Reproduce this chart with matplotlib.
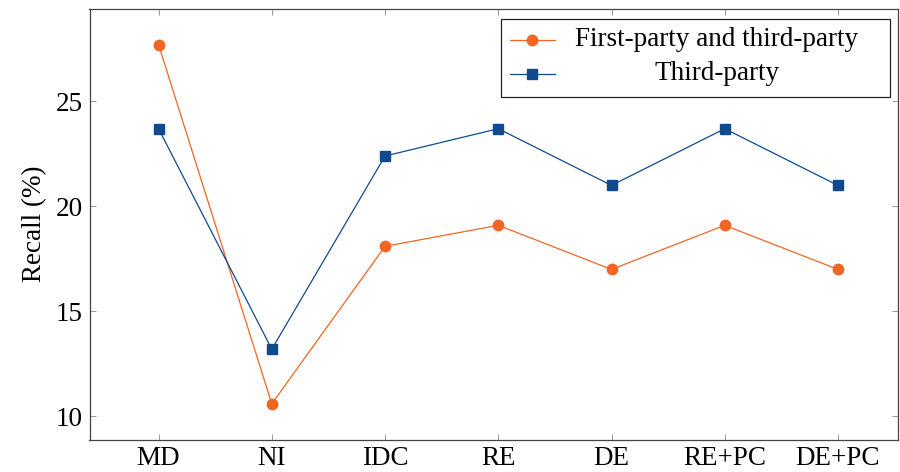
import numpy as np
import matplotlib.pyplot as plt
from matplotlib.lines import Line2D
from matplotlib.patches import Rectangle

plt.rcParams['font.family'] = ['Liberation Serif', 'DejaVu Serif']

methods = ['MD', 'NI', 'IDC', 'RE', 'DE', 'RE+PC', 'DE+PC']
first_and_third = [27.7, 10.6, 18.1, 19.1, 17.0, 19.1, 17.0]
third_only = [23.7, 13.2, 22.4, 23.7, 21.0, 23.7, 21.0]

orange = '#F26522'
blue = '#104A8E'
fs = 19.5

fig = plt.figure(figsize=(9, 4.72), dpi=100)
ax = fig.add_axes([89.5 / 900, 1 - 439.5 / 472, (898 - 89.5) / 900, (439.5 - 9) / 472])

x = np.arange(len(methods))
ax.plot(x, first_and_third, color=orange, lw=0.9, marker='o', ms=7.5, mec=orange, mfc=orange)
ax.plot(x, third_only, color=blue, lw=0.9, marker='s', ms=7.5, mec=blue, mfc=blue)

ax.set_xlim(-0.61, 6.53)
ax.set_ylim(8.9, 29.4)
ax.set_xticks(x)
ax.set_xticklabels(methods)
ax.set_yticks([10, 15, 20, 25])
ax.tick_params(direction='in', top=True, right=True, length=4.5, width=0.6,
               color='#888888', labelsize=fs, pad=5)
for s in ax.spines.values():
    s.set_linewidth(0.9)
    s.set_color('#444444')
ax.set_ylabel('Recall (%)', fontsize=fs, labelpad=6)

# legend drawn by hand so the labels can be centred like pgfplots
tr = ax.transAxes
def ax_pt(px, py):
    return ((px - 89.5) / (898 - 89.5), (439.5 - py) / (439.5 - 9))

x0, y0 = ax_pt(500.5, 96.5)
x1, y1 = ax_pt(889.5, 18.5)
ax.add_patch(Rectangle((x0, y0), x1 - x0, y1 - y0, transform=tr, fill=True,
                       fc='white', ec='#222222', lw=0.9, zorder=5))
labels = ['First-party and third-party', 'Third-party']
styles = [(orange, 'o'), (blue, 's')]
rows = [40, 74]
for lab, (c, m), ry in zip(labels, styles, rows):
    lx0, ly = ax_pt(510, ry)
    lx1, _ = ax_pt(555, ry)
    lxm, _ = ax_pt(532, ry)
    ax.add_line(Line2D([lx0, lx1], [ly, ly], transform=tr, color=c, lw=0.9, zorder=6))
    ax.add_line(Line2D([lxm], [ly], transform=tr, color=c, marker=m, ms=7.5, zorder=6))
    tx, _ = ax_pt(717, ry)
    ax.text(tx, ly, lab, transform=tr, ha='center', va='center', fontsize=fs, zorder=6)

fig.savefig('out.png', dpi=100)
